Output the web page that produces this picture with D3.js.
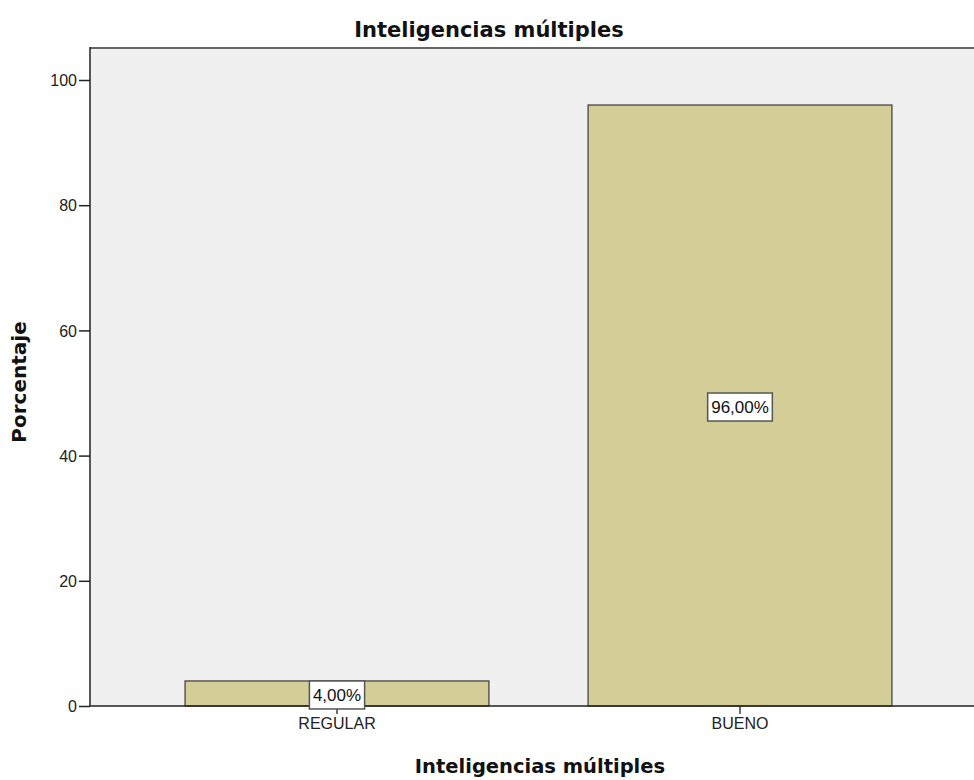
<!DOCTYPE html>
<html><head><meta charset="utf-8">
<script src="https://cdn.jsdelivr.net/npm/d3@7"></script>
<style>body{margin:0;background:#fff}svg{display:block}</style>
</head><body>
<svg id="c" width="974" height="780"></svg>
<script>
const categories = ["REGULAR", "BUENO"];
const values = [4, 96];
const valueLabels = ["4,00%", "96,00%"];
const yTicks = [0, 20, 40, 60, 80, 100];

const svg = d3.select("#c");
const L = 90, T = 48, B = 706, W = 974;
const y = d3.scaleLinear().domain([0, 100]).range([B, 80]);
const x = d3.scaleBand().domain(categories).range([135.5, 941.5]).paddingInner(0.246).paddingOuter(0.123);

svg.append("rect").attr("x", L).attr("y", T).attr("width", W - L).attr("height", B - T).attr("fill", "#f0f0f0");

svg.selectAll("rect.bar").data(values).enter().append("rect")
  .attr("class", "bar")
  .attr("x", (d, i) => x(categories[i]))
  .attr("width", x.bandwidth())
  .attr("y", d => y(d))
  .attr("height", d => y(0) - y(d))
  .attr("fill", "#d3ce97").attr("stroke", "#444").attr("stroke-width", 1.3);

svg.append("line").attr("x1", L).attr("x2", W).attr("y1", T).attr("y2", T).attr("stroke", "#666").attr("stroke-width", 2);

const font = "Liberation Sans, Arial, sans-serif";
const yAxis = d3.axisLeft(y).tickValues(yTicks).tickSize(11).tickPadding(2);
const gy = svg.append("g").attr("transform", `translate(${L},0)`).call(yAxis);
gy.attr("font-size", null).attr("font-family", null);
gy.select(".domain").attr("stroke", "#222").attr("stroke-width", 1.5).attr("d", `M0,${T - 1}V${B}`);
gy.selectAll(".tick line").attr("stroke", "#222").attr("stroke-width", 1.5);
gy.selectAll(".tick text").attr("font-family", font).attr("font-size", 16).attr("fill", "#222").attr("dy", "0.36em");

const xAxis = d3.axisBottom(x).tickSize(8).tickPadding(4);
const gx = svg.append("g").attr("transform", `translate(0,${B})`).call(xAxis);
gx.attr("font-size", null).attr("font-family", null);
gx.select(".domain").attr("stroke", "#222").attr("stroke-width", 1.5).attr("d", `M${L},0H${W}`);
gx.selectAll(".tick line").attr("stroke", "#222").attr("stroke-width", 1.3);
gx.selectAll(".tick text").attr("font-family", font).attr("font-size", 16).attr("fill", "#222");

const lab = svg.selectAll("g.lab").data(values).enter().append("g").attr("class", "lab")
  .attr("transform", (d, i) => `translate(${x(categories[i]) + x.bandwidth() / 2},${(y(d) + y(0)) / 2 + 1.5})`);
lab.each(function (d, i) {
  const g = d3.select(this);
  const t = g.append("text").text(valueLabels[i]).attr("text-anchor", "middle").attr("dy", "0.36em")
    .attr("font-family", font).attr("font-size", 17).attr("fill", "#111");
  const bb = t.node().getBBox();
  g.insert("rect", "text").attr("x", bb.x - 3.5).attr("y", -14).attr("width", bb.width + 7).attr("height", 28)
    .attr("fill", "#fff").attr("stroke", "#555").attr("stroke-width", 1.5);
});

const tfont = "DejaVu Sans, sans-serif";
svg.append("text").text("Inteligencias múltiples").attr("x", 489).attr("y", 37).attr("text-anchor", "middle")
  .attr("font-family", tfont).attr("font-weight", "bold").attr("font-size", 21).attr("fill", "#111");
svg.append("text").text("Inteligencias múltiples").attr("x", 540).attr("y", 773).attr("text-anchor", "middle")
  .attr("font-family", tfont).attr("font-weight", "bold").attr("font-size", 19.5).attr("fill", "#111");
svg.append("text").text("Porcentaje").attr("transform", "translate(26,382) rotate(-90)").attr("text-anchor", "middle")
  .attr("font-family", tfont).attr("font-weight", "bold").attr("font-size", 20).attr("fill", "#111");
</script>
</body></html>
